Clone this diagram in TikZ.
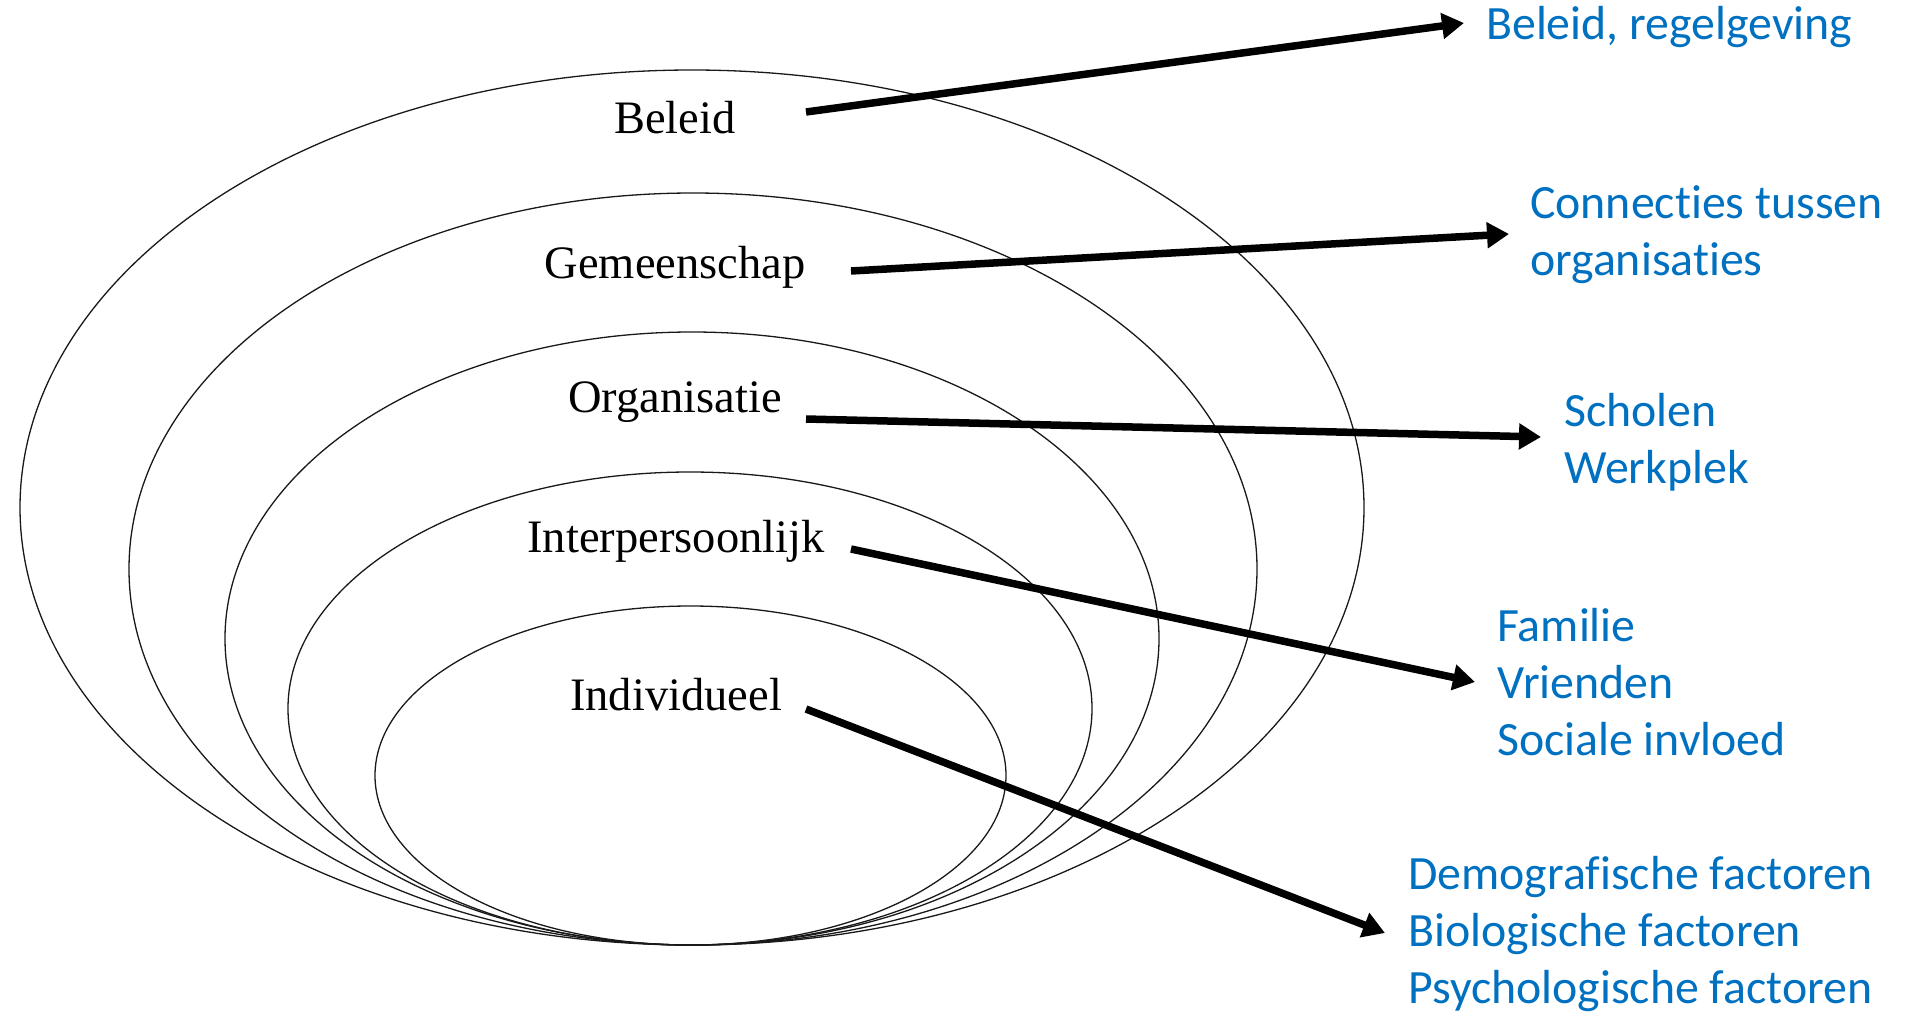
\documentclass[tikz,border=0pt]{standalone}
\usepackage{fontspec}
\setmainfont{Liberation Serif}
\newfontfamily\notefont[Ligatures=NoCommon]{Carlito}
\usetikzlibrary{arrows.meta}
\definecolor{noteblue}{HTML}{0070C0}

\begin{document}
\begin{tikzpicture}[x=1pt,y=-1pt,
  ring/.style={draw=black!90, line width=1.3pt},
  level/.style={font=\fontsize{46.5}{56}\selectfont, inner sep=0pt, anchor=base},
  % multi-line notes are placed by the baseline of their last line
  note/.style={font=\notefont\fontsize{47.8}{57}\selectfont, text=noteblue,
    inner sep=0pt, anchor=base west, align=left},
  link/.style={line width=7.5pt, -{Triangle[length=22pt,width=25pt]}}]
\useasboundingbox (0,0) rectangle (1914,1015);

% nested levels, all touching at the bottom
\draw[ring] (692,507.5) ellipse [x radius=672, y radius=437.5];
\draw[ring] (693,569)   ellipse [x radius=564, y radius=376];
\draw[ring] (692,638.5) ellipse [x radius=467, y radius=306.5];
\draw[ring] (690,708.5) ellipse [x radius=402, y radius=236.5];
\draw[ring] (690.5,775.5) ellipse [x radius=315.5, y radius=169.5];

% level names
\node[level] (beleid) at (675,133) {Beleid};
\node[level] (gemeenschap) at (675,278) {Gemeenschap};
\node[level] (organisatie) at (675,412) {Organisatie};
\node[level] (interpersoonlijk) at (676,552) {Interpersoonlijk};
\node[level] (individueel) at (676,710) {Individueel};

% examples per level
\node[note] (n1) at (1486,39) {Beleid, regelgeving};
\node[note] (n2) at (1530,275) {Connecties tussen\\organisaties};
\node[note] (n3) at (1564,483) {Scholen\\Werkplek};
\node[note] (n4) at (1497,755) {Familie\\Vrienden\\Sociale invloed};
\node[note] (n5) at (1408,1003) {Demografische factoren\\Biologische factoren\\Psychologische factoren};

% arrow ends
\coordinate (s1) at (806,112);  \coordinate (t1) at (1464,23);
\coordinate (s2) at (851,271);  \coordinate (t2) at (1509,234);
\coordinate (s3) at (806,419);  \coordinate (t3) at (1541,437);
\coordinate (s4) at (851,549);  \coordinate (t4) at (1475,682);
\coordinate (s5) at (806,709);  \coordinate (t5) at (1385,933);

\draw[link] (s1) -- (t1);
\draw[link] (s2) -- (t2);
\draw[link] (s3) -- (t3);
\draw[link] (s4) -- (t4);
\draw[link] (s5) -- (t5);
\end{tikzpicture}
\end{document}
